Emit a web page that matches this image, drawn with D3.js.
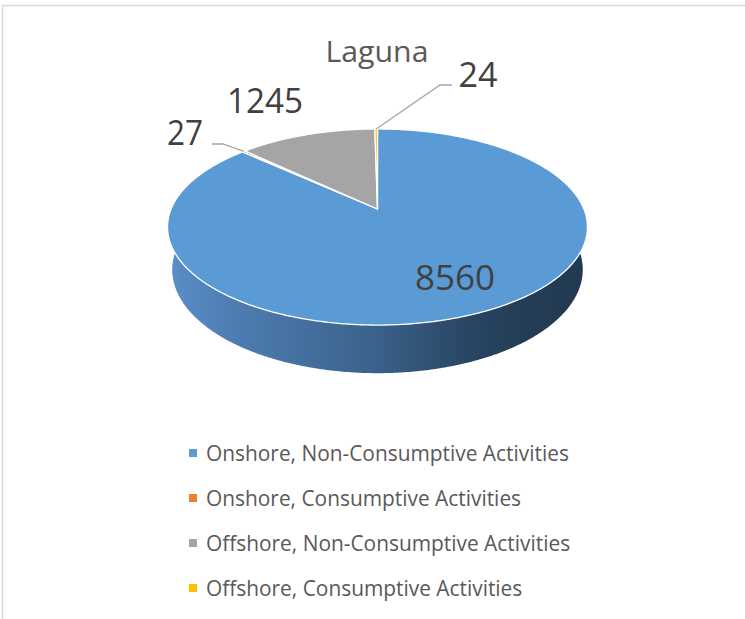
<!DOCTYPE html>
<html><head><meta charset="utf-8">
<script src="https://cdn.jsdelivr.net/npm/d3@7"></script>
<style>
html,body{margin:0;padding:0;background:#fff;}
svg{display:block;}
</style></head>
<body>
<svg id="chart" width="745" height="619"></svg>
<script>
// ---- data ----
const title = "Laguna";
const categories = [
  "Onshore, Non-Consumptive Activities",
  "Onshore, Consumptive Activities",
  "Offshore, Non-Consumptive Activities",
  "Offshore, Consumptive Activities"
];
const values = [8560, 27, 1245, 24];
const colors = ["#5b9bd5", "#ed7d31", "#a5a5a5", "#ffc000"];

// ---- layout ----
const svg = d3.select("#chart");
const W = 745, H = 619;
const cx = 377.5, cy = 209;          // projected pie centre (top face)
const S = 206.4;                      // screen scale for radius 1
const alpha = Math.asin(0.459);       // view elevation
const sinA = Math.sin(alpha), cosA = Math.cos(alpha);
const Dist = 4.834;                   // perspective distance (radius units)
const depth = 0.234;                  // pie thickness (radius units)

function proj(theta, r, h) {
  const X = r * Math.sin(theta), Z = r * Math.cos(theta), Y = h;
  const v = Z * sinA + Y * cosA;
  const w = Z * cosA - Y * sinA;
  const k = 1 / (1 + w / Dist);
  return [cx + S * X * k, cy - S * v * k];
}

// border of chart area
svg.append("rect").attr("x", 2.5).attr("y", 5.5).attr("width", W + 10).attr("height", H + 10)
  .attr("fill", "#fff").attr("stroke", "#d9d9d9").attr("stroke-width", 1.5);

const pie = d3.pie().sort(null).value(d => d)(values);

const defs = svg.append("defs");
const grad = defs.append("linearGradient").attr("id", "sideGrad")
  .attr("gradientUnits", "userSpaceOnUse")
  .attr("x1", proj(Math.PI * 1.5, 1, 0)[0] - 4).attr("x2", proj(Math.PI * 0.5, 1, 0)[0] + 4)
  .attr("y1", 0).attr("y2", 0);
[[0, "#5b90c9"], [0.12, "#5080b6"], [0.5, "#3a6189"], [0.72, "#294562"], [0.85, "#243d55"], [1, "#223a51"]]
  .forEach(([o, c]) => grad.append("stop").attr("offset", o).attr("stop-color", c));

const line = d3.line();
function arcPts(a0, a1, r, h) {
  const n = Math.max(2, Math.ceil(Math.abs(a1 - a0) / 0.01));
  return d3.range(n + 1).map(i => proj(a0 + (a1 - a0) * i / n, r, h));
}

// side wall (front part; only the slice covering the front is visible)
pie.forEach((p, i) => {
  const lo = Math.max(p.startAngle, Math.PI * 80 / 180);
  const hi = Math.min(p.endAngle, Math.PI * 280 / 180);
  if (hi <= lo) return;
  const pts = arcPts(lo, hi, 1, 0).concat(arcPts(hi, lo, 1, -depth));
  svg.append("path").attr("d", line(pts) + "Z")
    .attr("fill", i === 0 ? "url(#sideGrad)" : d3.color(colors[i]).darker(1))
    .attr("stroke", "none");
});

// top faces
pie.forEach((p, i) => {
  const pts = [proj(0, 0, 0)].concat(arcPts(p.startAngle, p.endAngle, 1, 0));
  svg.append("path").attr("d", line(pts) + "Z")
    .attr("fill", colors[i]).attr("stroke", "#fff").attr("stroke-width", 1.3)
    .attr("stroke-linejoin", "round");
});

function fitSize(text, family, targetW) {
  const t = svg.append("text").attr("font-family", family).attr("font-size", 100).text(text);
  const w = t.node().getComputedTextLength();
  t.remove();
  return 100 * targetW / w;
}
const FONT = "'Open Sans', 'Noto Sans', sans-serif";

// title
svg.append("text").attr("x", 377).attr("y", 62).attr("text-anchor", "middle")
  .attr("font-family", FONT).attr("font-size", 30)
  .attr("textLength", 103).attr("lengthAdjust", "spacingAndGlyphs")
  .attr("fill", "#595959").text(title);

// data labels
const labelPos = [ // centre x, baseline y, rendered width, optional leader
  {x: 455, y: 290, w: 80, leader: null},
  {x: 185, y: 145, w: 36, leader: {lx: 212, ly: 144, bx: 223, by: 144}},
  {x: 265, y: 113, w: 76, leader: null},
  {x: 478, y: 87, w: 39, leader: {lx: 452, ly: 85, bx: 440, by: 85}}
];
pie.forEach((p, i) => {
  const L = labelPos[i];
  if (L.leader) {
    const mid = (p.startAngle + p.endAngle) / 2;
    const rim = proj(mid, 1, 0);
    svg.append("path").attr("d", line([[L.leader.lx, L.leader.ly], [L.leader.bx, L.leader.by], rim]))
      .attr("fill", "none").attr("stroke", "#a6a6a6").attr("stroke-width", 1.3);
  }
  svg.append("text").attr("x", L.x).attr("y", L.y).attr("text-anchor", "middle")
    .attr("font-family", FONT).attr("font-size", 34)
    .attr("textLength", L.w).attr("lengthAdjust", "spacingAndGlyphs")
    .attr("fill", "#404040").text(d3.format("d")(values[i]));
});

// legend
const legSize = fitSize(categories[0], FONT, 363);
const legY = d3.scalePoint().domain(categories).range([453, 588]);
categories.forEach((c, i) => {
  const y = legY(c);
  svg.append("rect").attr("x", 189).attr("y", y - 4).attr("width", 8).attr("height", 8)
    .attr("fill", colors[i]);
  svg.append("text").attr("x", 206).attr("y", y).attr("dy", "0.36em")
    .attr("font-family", FONT).attr("font-size", legSize)
    .attr("fill", "#595959").text(c);
});
</script>
</body></html>
